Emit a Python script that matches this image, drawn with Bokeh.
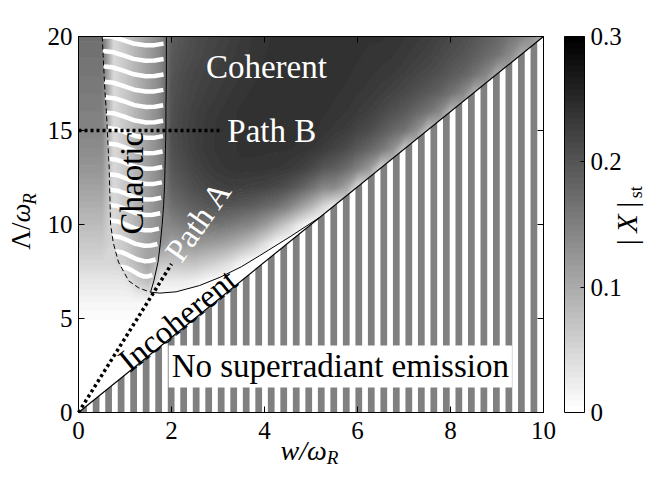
import numpy as np
from bokeh.plotting import figure
from bokeh.models import (Range1d, LinearAxis, FixedTicker, LinearColorMapper,
                          ColorBar, Label)
from bokeh.embed import file_html
from bokeh.resources import INLINE

# ---------------- data ----------------
x_ticks = [0, 2, 4, 6, 8, 10]
y_ticks = [0, 5, 10, 15, 20]
cbar_ticks = [0, 0.1, 0.2, 0.3]

# |X|_st sampled on a grid: columns w = 0, 0.25, ..., 10 ; rows Lambda = 20 (top) ... 0 (bottom)
grid_w = [i * 0.25 for i in range(41)]
grid_l = [float(i) for i in range(21)]
hidden_tail = [.02, .03, .04, .045, .05, .055, .06, .065, .07, .075, .08, .085, .09, .092, .095, .097, .10, .10, .10]
row_20 = [.17, .17, .17, .045, .065, .09, .115, .14, .19, .20, .21, .215, .22, .225, .23, .235, .238, .24, .24, .24, .24, .24, .24, .24, .24, .24, .24, .238, .235, .232, .228, .222, .215, .208, .20, .19, .18, .165, .15, .13, .10]
row_19 = [.165, .165, .165, .045, .065, .09, .115, .14, .195, .205, .212, .218, .223, .228, .232, .236, .239, .24, .24, .24, .24, .24, .24, .24, .24, .238, .237, .235, .232, .227, .222, .215, .207, .20, .19, .178, .165, .14, .10, .10, .10]
row_18 = [.16, .16, .16, .045, .065, .09, .115, .14, .20, .21, .217, .222, .227, .231, .235, .238, .24, .24, .24, .24, .24, .24, .24, .24, .238, .236, .233, .23, .225, .218, .212, .205, .195, .185, .168, .145, .095, .097, .10, .10, .10]
row_17 = [.155, .155, .155, .045, .065, .09, .115, .14, .203, .213, .22, .226, .23, .234, .238, .24, .24, .24, .24, .24, .24, .24, .24, .238, .235, .232, .227, .22, .213, .205, .195, .185, .168, .145, .09, .092, .095, .097, .10, .10, .10]
row_16 = [.15, .15, .15, .045, .065, .09, .115, .14, .205, .216, .224, .23, .234, .238, .24, .24, .24, .24, .24, .24, .24, .24, .238, .235, .23, .224, .215, .205, .195, .18, .165, .14, .08, .085, .09, .092, .095, .097, .10, .10, .10]
row_15 = [.145, .145, .145, .045, .065, .09, .115, .14, .207, .218, .226, .232, .236, .238, .24, .24, .24, .24, .24, .24, .24, .238, .233, .228, .218, .21, .195, .18, .165, .135, .07, .075, .08, .085, .09, .092, .095, .097, .10, .10, .10]
row_14 = [.135, .135, .135, .045, .065, .09, .115, .14, .205, .216, .225, .232, .236, .238, .24, .24, .24, .24, .24, .238, .235, .228, .22, .21, .195, .18, .16, .13, .06, .065, .07, .075, .08, .085, .09, .092, .095, .097, .10, .10, .10]
row_13 = [.125, .125, .125, .045, .065, .09, .115, .14, .197, .208, .219, .227, .233, .236, .238, .238, .237, .235, .232, .225, .215, .20, .19, .175, .15, .12, .05, .055, .06, .065, .07, .075, .08, .085, .09, .092, .095, .097, .10, .10, .10]
row_12 = [.11, .11, .11, .045, .065, .09, .115, .14, .187, .197, .208, .216, .222, .225, .225, .222, .22, .215, .205, .19, .17, .145, .14, .11, .04, .045, .05, .055, .06, .065, .07, .075, .08, .085, .09, .092, .095, .097, .10, .10, .10]
row_11 = [.095, .095, .095, .045, .065, .09, .115, .14, .17, .18, .19, .197, .20, .20, .195, .19, .18, .17, .15, .12, .09, .05] + hidden_tail
row_10 = [.08, .08, .08, .045, .065, .09, .115, .135, .145, .155, .163, .165, .165, .16, .15, .14, .12, .09, .06, .025, 0, 0] + hidden_tail
row_9 = [.065, .065, .065, .05, .065, .09, .11, .13, .11, .12, .125, .12, .115, .105, .09, .07, .04, .01, 0, 0, 0, 0] + hidden_tail
row_8 = [.05, .05, .05, .05, .06, .085, .11, .07, .07, .075, .075, .065, .055, .04, .015, 0, 0, 0, 0, 0, 0, 0] + hidden_tail
row_7 = [.03, .03, .03, .03, .03, .06, .08, .025, .025, .025, .02, .01, 0, 0, 0, 0, 0, 0, 0, 0, 0, 0] + hidden_tail
row_6 = [.015, .015, .015, .015, .015, .015, .015, 0, 0, 0, 0, 0, 0, 0, 0, 0, 0, 0, 0, 0, 0, 0] + hidden_tail
row_5 = [.005, .005, .005, .005, .005, .005, .005, .005, 0, 0, 0, 0, 0, 0, 0, 0, 0, 0, 0, 0, 0, 0] + hidden_tail
row_4 = [0, 0, 0, 0, 0, 0, 0, 0, 0, 0, 0, 0, 0, 0, 0, 0, 0, 0, 0, 0, 0, 0] + hidden_tail
row_3 = [0, 0, 0, 0, 0, 0, 0, 0, 0, 0, 0, 0, 0, 0, 0, 0, 0, 0, 0, 0, 0, 0] + hidden_tail
row_2 = [0, 0, 0, 0, 0, 0, 0, 0, 0, 0, 0, 0, 0, 0, 0, 0, 0, 0, 0, 0, 0, 0] + hidden_tail
row_1 = [0, 0, 0, 0, 0, 0, 0, 0, 0, 0, 0, 0, 0, 0, 0, 0, 0, 0, 0, 0, 0, 0] + hidden_tail
row_0 = [0, 0, 0, 0, 0, 0, 0, 0, 0, 0, 0, 0, 0, 0, 0, 0, 0, 0, 0, 0, 0, 0] + hidden_tail
rows_top_down = [row_20, row_19, row_18, row_17, row_16, row_15, row_14, row_13, row_12, row_11,
                 row_10, row_9, row_8, row_7, row_6, row_5, row_4, row_3, row_2, row_1, row_0]

# phase boundaries
chaos_left_x = [0.51, 0.53, 0.55, 0.57, 0.60, 0.62, 0.64, 0.66, 0.67, 0.68, 0.69, 0.75, 0.86, 1.08, 1.30, 1.55]
chaos_left_y = [20, 19, 18, 17, 16, 15, 14, 13, 12, 11, 10, 9, 8, 7, 6.62, 6.40]
chaos_right_x = [1.89, 1.89, 1.88, 1.88, 1.87, 1.86, 1.85, 1.83, 1.80, 1.76, 1.71, 1.62, 1.55]
chaos_right_y = [20, 18, 16, 15, 14, 13, 12, 11, 10, 9, 8, 7, 6.40]
coherent_edge_x = [1.55, 1.75, 2.10, 2.60, 3.05, 3.50, 3.90, 4.55, 5.20]
coherent_edge_y = [6.40, 6.35, 6.42, 6.75, 7.20, 7.75, 8.35, 9.35, 10.40]
emission_edge_x = [0, 10]
emission_edge_y = [0, 20]
path_a_x = [0, 2.0]
path_a_y = [0, 7.9]
path_b_x = [0, 3.1]
path_b_y = [15, 15]

# ---------------- layout (pixels) ----------------
W, H = 649, 467
FL, FR, FT, FB = 78, 543, 36, 412          # data box inside the canvas
xs_per = (FR - FL) / (x_ticks[-1] - x_ticks[0])
ys_per = (FB - FT) / (y_ticks[-1] - y_ticks[0])
x_range = Range1d(x_ticks[0] - FL / xs_per, x_ticks[-1] + (W - FR) / xs_per)
y_range = Range1d(y_ticks[0] - (H - FB) / ys_per, y_ticks[-1] + FT / ys_per)

SERIF = "Liberation Serif"
gray64 = ["#%02x%02x%02x" % (g, g, g) for g in np.linspace(255, 0, 64).round().astype(int)]
gray65 = ["#%02x%02x%02x" % (g, g, g) for g in np.linspace(255, 0, 65).round().astype(int)]
cmap = LinearColorMapper(palette=gray64, low=cbar_ticks[0], high=cbar_ticks[-1])

p = figure(width=W, height=H, output_backend="svg", toolbar_location=None,
           x_range=x_range, y_range=y_range, x_axis_location=None, y_axis_location=None,
           min_border=0)
p.grid.visible = False
p.outline_line_color = None
p.background_fill_color = "white"
p.border_fill_color = "white"

# heat map (filled contours of the sampled grid, 64 grey levels)
z = np.array(rows_top_down, dtype=float)[::-1]
levels = list(np.linspace(cbar_ticks[0], cbar_ticks[-1], len(gray64) + 1))
p.contour(x=grid_w, y=grid_l, z=z, levels=levels, fill_color=gray64,
          line_color=gray65, line_width=1.3)

slope = (emission_edge_y[1] - emission_edge_y[0]) / (emission_edge_x[1] - emission_edge_x[0])

# incoherent region (white)
inc_x = coherent_edge_x + [coherent_edge_x[0]]
inc_y = coherent_edge_y + [slope * coherent_edge_x[0]]
p.patch(inc_x, inc_y, fill_color="white", line_color=None)

# no superradiant emission region: white with grey vertical stripes
p.patch([emission_edge_x[0], emission_edge_x[1], emission_edge_x[1]],
        [emission_edge_y[0], emission_edge_y[0], emission_edge_y[1]],
        fill_color="white", line_color=None)
period, width, phase = 0.269, 0.145, 0.037
sx, sy = [], []
x0 = phase
while x0 < emission_edge_x[1]:
    x1 = min(x0 + width, emission_edge_x[1])
    sx.append([x0, x1, x1, x0])
    sy.append([0, 0, slope * x1, slope * x0])
    x0 += period
p.patches(sx, sy, fill_color="#808080", line_color=None)

# chaotic region: white curved stripes
ly = np.array(chaos_left_y[::-1]); lx = np.array(chaos_left_x[::-1])
ry = np.array(chaos_right_y[::-1]); rx = np.array(chaos_right_x[::-1])
bend_t = np.array([0.0, 0.15, 0.3, 0.5, 0.7, 0.85, 1.0])
bend_dy = np.array([0.30, 0.25, 0.10, -0.12, -0.22, -0.21, -0.13])
cx, cy = [], []
for y0 in np.arange(19.75, 7.2, -0.82):
    yy = np.minimum(y0 + bend_dy, y_ticks[-1])
    xl = np.interp(yy, ly, lx)
    xr = np.interp(yy, ry, rx) - 0.06
    cx.append(list(xl + (xr - xl) * bend_t))
    cy.append(list(yy))
p.multi_line(cx, cy, line_color="white", line_width=4.5)

# boundaries and paths
p.line(chaos_left_x, chaos_left_y, line_color="black", line_width=1, line_dash="5 3")
p.line(chaos_right_x, chaos_right_y, line_color="black", line_width=1)
p.line(coherent_edge_x, coherent_edge_y, line_color="black", line_width=1)
p.line(emission_edge_x, emission_edge_y, line_color="black", line_width=1.2)
p.line(path_a_x, path_a_y, line_color="black", line_width=3.5, line_dash="3 3")
p.line(path_b_x, path_b_y, line_color="black", line_width=3.5, line_dash="3 3")

# axes (box with inward ticks on all four sides)
def make_axis(loc, ticks, labels=True):
    return LinearAxis(fixed_location=loc, ticker=FixedTicker(ticks=ticks),
                      bounds=(ticks[0], ticks[-1]),
                      major_tick_in=6, major_tick_out=0, minor_tick_line_color=None,
                      axis_line_color="black", major_tick_line_color="black",
                      major_label_text_font=SERIF, major_label_text_font_size="25px",
                      major_label_text_color="black" if labels else None)

ax_b = make_axis(y_ticks[0], x_ticks); ax_b.major_label_standoff = 9
ax_l = make_axis(x_ticks[0], y_ticks); ax_l.major_label_standoff = 6
p.add_layout(ax_b, "below")
p.add_layout(ax_l, "left")
p.add_layout(make_axis(y_ticks[-1], x_ticks, False), "above")
p.add_layout(make_axis(x_ticks[-1], y_ticks, False), "right")

def lab(text, x, y, color="black", size="33px", angle=0, align="center", baseline="middle",
        style="normal", **kw):
    p.add_layout(Label(text=text, x=x, y=y, text_color=color, text_font=SERIF,
                       text_font_size=size, angle=angle, angle_units="deg",
                       text_align=align, text_baseline=baseline, text_font_style=style, **kw))

lab("Coherent", 4.04, 18.4, color="white")
lab("Path B", 3.2, 15.0, color="white", align="left")
lab("Path A", 2.58, 10.2, color="white", angle=55)
lab("Chaotic", 1.16, 12.2, angle=90)
lab("Incoherent", 2.13, 4.9, angle=39)
lab("No superradiant emission", 5.63, 2.45, background_fill_color="white", padding=3)

# axis titles
lab("w/ω", 5.34, -2.02, size="28px", align="right", style="italic")
lab("R", 5.34, -2.39, size="19px", align="left", style="italic")
lab("Λ/", -1.24, 10.1, size="27px", angle=90, align="right")
lab("ω", -1.24, 10.1, size="27px", angle=90, align="left", style="italic")
lab("R", -1.05, 11.05, size="19px", angle=90, align="left", style="italic")

# colour bar
cb = ColorBar(color_mapper=cmap, width=20, height=FB - FT, location=(564, H - FB),
              ticker=FixedTicker(ticks=cbar_ticks),
              major_label_text_font=SERIF, major_label_text_font_size="25px",
              major_label_text_color="black", bar_line_color="black",
              major_tick_line_color="black", major_tick_in=4, major_tick_out=0,
              minor_tick_line_color=None, label_standoff=6, padding=0, margin=0,
              border_line_color=None, background_fill_alpha=0)
p.add_layout(cb)
lab("|", 11.78, 9.05, size="30px", angle=90)
lab("X", 11.78, 10.05, size="30px", angle=90, style="italic")
lab("|", 11.78, 11.05, size="30px", angle=90)
lab("st", 11.99, 11.4, size="18px", angle=90, align="left")

open("out.html", "w").write(file_html(p, INLINE))
